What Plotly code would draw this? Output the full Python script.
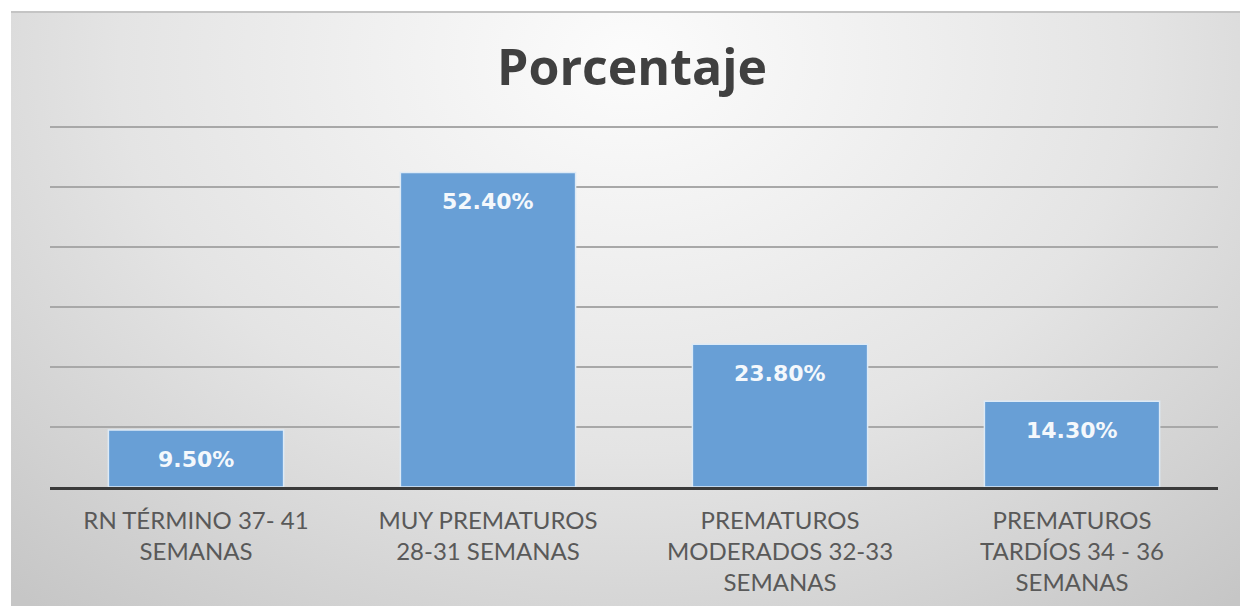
import plotly.graph_objects as go
import urllib.parse

categorias = ["RN TÉRMINO 37- 41<br>SEMANAS",
              "MUY PREMATUROS<br>28-31 SEMANAS",
              "PREMATUROS<br>MODERADOS 32-33<br>SEMANAS",
              "PREMATUROS<br>TARDÍOS 34 - 36<br>SEMANAS"]
porcentajes = [9.5, 52.4, 23.8, 14.3]
etiquetas = ["9.50%", "52.40%", "23.80%", "14.30%"]

# fondo con degradado radial (gris claro al centro, mas oscuro en los bordes)
svg = ('<svg xmlns="http://www.w3.org/2000/svg" width="1237" height="595" preserveAspectRatio="none">'
       '<defs><radialGradient id="g" cx="0.5" cy="0.08" r="0.75" gradientUnits="objectBoundingBox" '
       'gradientTransform="translate(0.5,0.08) scale(1,1.6) translate(-0.5,-0.08)">'
       '<stop offset="0" stop-color="#fcfcfc"/><stop offset="0.55" stop-color="#e4e4e4"/>'
       '<stop offset="1" stop-color="#c6c6c6"/></radialGradient></defs>'
       '<rect width="1237" height="595" fill="url(#g)"/>'
       '<rect width="1237" height="2" fill="#c4c4c4"/></svg>')
fondo = "data:image/svg+xml;charset=utf-8," + urllib.parse.quote(svg)

fig = go.Figure()

fig.add_trace(go.Bar(
    x=categorias, y=porcentajes,
    width=0.6,
    marker=dict(color="#689fd6", line=dict(color="#ddeaf6", width=1.5)),
    hoverinfo="skip"))

for c, v, t in zip(categorias, porcentajes, etiquetas):
    fig.add_annotation(x=c, y=v, text="<b>%s</b>" % t, showarrow=False,
                       yshift=-29, font=dict(family="DejaVu Sans", size=22, color="#f4f8fc"))

# alto del area de trazado: 366 px para 0..61 -> 60 px por cada 10 %
fig.add_layout_image(dict(source=fondo, xref="paper", yref="paper",
                          x=-39/1168, y=476/366, sizex=1237/1168, sizey=595/366,
                          xanchor="left", yanchor="top", sizing="stretch", layer="below"))

fig.update_layout(
    width=1248, height=606,
    margin=dict(l=42, r=38, t=113, b=127),
    paper_bgcolor="white", plot_bgcolor="rgba(0,0,0,0)",
    showlegend=False,
    title=dict(text="<b>Porcentaje</b>", x=0.5, xanchor="center", y=0.901, yanchor="middle",
               font=dict(family="Open Sans", size=50, color="#404040")),
    font=dict(family="Lato", size=24, color="#595959"),
    xaxis=dict(showline=True, linecolor="#3a3a3a", linewidth=3, ticks="",
               ticklabelstandoff=10,
               tickfont=dict(family="Lato", size=24, color="#595959"), showgrid=False),
    yaxis=dict(range=[0, 61], dtick=10, showticklabels=False, showgrid=True,
               gridcolor="#a8a8a8", gridwidth=2, zeroline=False),
)

fig.write_html("out.html")
